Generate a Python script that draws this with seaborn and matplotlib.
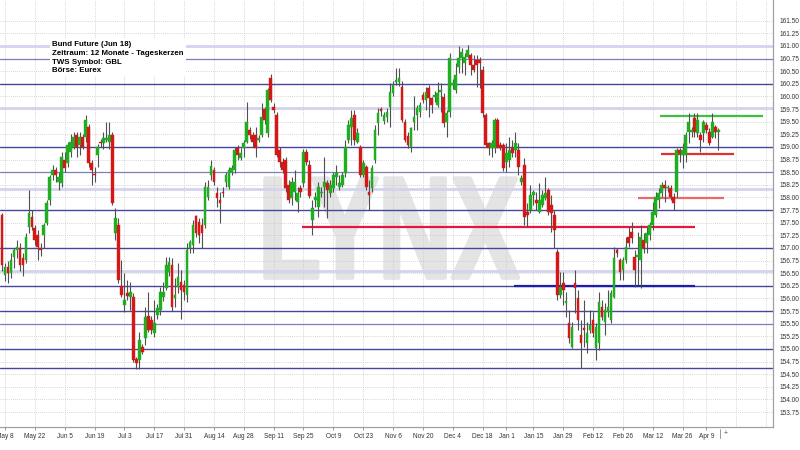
import numpy as np
import pandas as pd
import matplotlib
matplotlib.use("Agg")
import matplotlib.pyplot as plt
import seaborn as sns
from matplotlib import patheffects
from matplotlib.transforms import Affine2D

# daily candles, Bund Future, one value per trading day
opens = [
    157.65, 156.46, 156.62, 156.50, 156.82, 156.95, 157.00, 156.80, 156.76, 157.42,
    157.61, 157.40, 157.26, 157.00, 157.26, 157.50, 157.95, 158.45, 158.55, 158.31,
    158.28, 158.74, 158.68, 158.90, 159.00, 159.24, 159.04, 159.20, 159.20, 159.40,
    158.68, 158.47, 158.84, 159.10, 159.08, 159.14, 159.10, 159.24, 157.30, 157.45,
    156.25, 155.87, 156.10, 156.03, 156.03, 154.80, 154.78, 155.04, 155.22, 155.65,
    155.57, 155.32, 155.67, 155.77, 156.03, 156.21, 156.52, 156.66, 156.00, 156.23,
    156.33, 156.27, 156.07, 157.00, 157.06, 157.63, 157.52, 157.45, 157.46, 158.00,
    158.45, 158.54, 158.09, 157.95, 158.10, 158.30, 158.20, 158.50, 158.55, 158.98,
    158.78, 158.98, 159.10, 159.33, 159.24, 159.24, 159.14, 159.24, 159.75, 159.28,
    160.37, 159.79, 159.63, 158.94, 158.70, 158.74, 158.25, 157.98, 158.10, 157.91,
    158.19, 158.29, 158.90, 158.64, 157.55, 157.95, 157.81, 158.08, 158.21, 158.29,
    158.09, 158.19, 158.41, 158.20, 158.25, 158.48, 159.14, 159.40, 159.63, 159.10,
    159.00, 158.45, 158.60, 158.11, 158.19, 158.74, 159.47, 159.75, 159.51, 159.59,
    159.79, 160.07, 160.29, 160.29, 160.19, 159.49, 159.22, 159.00, 159.49, 159.63,
    159.69, 160.03, 159.93, 160.17, 159.97, 159.99, 159.83, 160.09, 159.99, 159.49,
    159.69, 160.23, 160.13, 160.58, 160.76, 160.66, 160.78, 160.82, 160.62, 160.72,
    160.72, 160.52, 159.63, 159.08, 158.98, 158.98, 159.53, 159.04, 159.04, 158.70,
    158.74, 158.98, 158.94, 158.94, 158.31, 158.64, 157.71, 157.75, 158.05, 157.95,
    157.71, 157.85, 157.99, 158.15, 157.85, 157.65, 156.92, 156.07, 156.31, 155.91,
    155.51, 155.04, 156.31, 156.01, 155.28, 155.41, 155.12, 155.38, 155.57, 155.02,
    155.12, 155.83, 155.53, 155.73, 155.57, 156.03, 156.96, 156.76, 156.56, 156.76,
    157.22, 157.32, 156.82, 156.82, 156.76, 157.16, 157.10, 157.26, 157.46, 157.65,
    157.95, 158.09, 158.25, 158.19, 158.19, 158.01, 158.11, 158.94, 158.84, 158.84,
    159.30, 159.30, 159.57, 159.28, 159.24, 159.28, 159.43, 159.30, 159.20, 159.40, 159.30,
]
highs = [
    157.70, 156.70, 156.75, 156.90, 157.00, 157.15, 157.10, 156.90, 157.30, 158.15,
    157.75, 157.45, 157.35, 157.10, 157.50, 157.95, 158.45, 158.65, 158.60, 158.50,
    158.90, 158.90, 159.10, 159.25, 159.30, 159.30, 159.30, 159.25, 159.63, 159.45,
    158.75, 158.60, 159.05, 159.15, 159.30, 159.50, 159.50, 159.30, 157.80, 157.60,
    156.76, 156.50, 156.36, 156.33, 156.10, 154.85, 155.34, 155.10, 155.83, 156.13,
    155.65, 155.97, 155.90, 156.23, 156.33, 156.82, 156.82, 156.80, 156.40, 156.70,
    156.56, 156.37, 157.10, 157.16, 157.55, 157.65, 157.60, 157.60, 158.30, 158.35,
    158.74, 158.60, 158.20, 158.10, 158.20, 158.50, 158.60, 158.65, 159.00, 159.04,
    158.98, 159.14, 159.90, 159.40, 159.30, 159.40, 159.24, 159.87, 159.80, 160.17,
    160.45, 159.87, 159.70, 159.00, 158.78, 158.80, 158.35, 158.40, 158.55, 158.20,
    158.25, 158.96, 158.96, 158.74, 157.95, 158.10, 158.31, 158.20, 158.80, 158.35,
    158.35, 158.50, 158.64, 158.45, 158.50, 159.14, 159.53, 159.73, 159.73, 159.38,
    159.04, 158.75, 158.65, 158.35, 158.65, 159.43, 159.77, 159.80, 159.70, 159.77,
    160.27, 160.30, 160.56, 160.56, 160.30, 159.55, 159.30, 159.40, 160.00, 159.83,
    159.90, 160.09, 160.19, 160.23, 159.99, 160.10, 160.29, 160.27, 160.07, 159.73,
    160.86, 160.35, 160.66, 161.00, 160.96, 160.86, 161.02, 160.86, 160.82, 160.82,
    160.78, 160.60, 159.67, 159.10, 159.14, 159.57, 159.57, 159.10, 159.08, 159.08,
    159.20, 159.14, 159.30, 159.08, 158.45, 158.78, 157.89, 158.25, 158.15, 158.11,
    158.29, 158.15, 158.41, 158.19, 158.05, 157.75, 156.98, 156.52, 156.52, 156.13,
    155.77, 155.53, 156.56, 156.17, 155.57, 155.97, 155.53, 155.77, 155.73, 155.51,
    156.13, 155.97, 155.91, 156.17, 156.17, 157.02, 157.00, 156.80, 156.82, 157.22,
    157.42, 157.51, 156.96, 157.32, 157.46, 157.30, 157.42, 157.51, 157.91, 158.11,
    158.19, 158.31, 158.35, 158.25, 158.25, 158.09, 158.98, 158.98, 159.08, 159.30,
    159.67, 159.40, 159.67, 159.67, 159.30, 159.53, 159.49, 159.38, 159.67, 159.43, 159.38,
]
lows = [
    156.55, 156.35, 156.30, 156.40, 156.60, 156.80, 156.55, 156.45, 156.70, 157.30,
    157.35, 157.05, 156.76, 156.85, 157.00, 157.45, 157.85, 158.35, 158.30, 158.15,
    158.20, 158.50, 158.60, 158.80, 158.95, 158.80, 158.85, 158.95, 159.10, 158.60,
    158.25, 158.30, 158.60, 159.00, 158.95, 159.10, 158.95, 157.85, 157.15, 156.30,
    156.03, 155.73, 155.97, 155.77, 154.75, 154.60, 154.60, 154.90, 155.08, 155.34,
    155.30, 155.24, 155.60, 155.67, 155.95, 156.17, 156.45, 155.75, 155.83, 156.10,
    155.60, 155.97, 155.93, 156.90, 156.90, 157.22, 157.10, 157.00, 157.40, 157.95,
    158.35, 158.25, 157.81, 157.50, 158.00, 158.20, 158.17, 158.45, 158.48, 158.74,
    158.74, 158.80, 159.08, 159.15, 159.00, 158.80, 159.10, 159.20, 159.45, 159.20,
    159.90, 159.67, 158.80, 158.60, 158.48, 158.10, 157.89, 157.85, 157.95, 157.71,
    158.00, 158.20, 158.65, 157.99, 157.26, 157.81, 157.61, 158.00, 157.81, 157.60,
    158.00, 158.10, 158.25, 158.15, 158.20, 158.40, 159.08, 159.04, 159.04, 159.08,
    158.40, 158.40, 158.15, 157.75, 158.10, 158.68, 159.24, 159.62, 159.45, 159.49,
    159.40, 160.00, 160.23, 160.20, 159.50, 159.10, 158.98, 158.90, 159.34, 159.34,
    159.60, 159.87, 159.73, 159.59, 159.67, 159.90, 159.79, 159.69, 159.40, 159.20,
    159.59, 160.15, 160.07, 160.46, 160.46, 160.43, 160.76, 160.43, 160.48, 160.19,
    160.17, 159.60, 159.00, 158.84, 158.80, 158.88, 158.98, 158.94, 158.52, 158.50,
    158.60, 158.80, 158.80, 158.45, 158.25, 157.46, 157.42, 157.69, 157.85, 157.75,
    157.69, 157.81, 157.95, 157.65, 157.32, 157.00, 155.97, 156.01, 155.87, 155.63,
    155.12, 155.02, 155.71, 155.38, 154.62, 155.04, 154.92, 155.32, 155.24, 154.78,
    154.98, 155.57, 155.28, 155.63, 155.51, 156.00, 156.82, 156.37, 156.37, 156.70,
    157.02, 157.10, 156.23, 156.27, 156.21, 156.90, 156.90, 157.16, 157.36, 157.61,
    157.79, 158.01, 157.91, 158.11, 157.95, 157.75, 158.01, 158.70, 158.58, 158.70,
    159.08, 159.20, 159.20, 159.20, 158.90, 159.10, 159.28, 159.04, 159.18, 159.18, 158.94,
]
closes = [
    156.66, 156.62, 156.50, 156.76, 156.96, 157.02, 156.66, 156.66, 157.22, 157.69,
    157.42, 157.16, 157.02, 156.96, 157.46, 157.90, 158.41, 158.55, 158.45, 158.41,
    158.80, 158.58, 159.04, 159.10, 159.20, 159.00, 159.20, 159.00, 159.53, 158.68,
    158.54, 158.44, 159.00, 159.08, 159.18, 159.18, 159.24, 157.90, 157.60, 156.37,
    156.07, 155.97, 156.05, 156.13, 154.78, 154.72, 155.18, 154.94, 155.63, 155.38,
    155.38, 155.52, 155.81, 156.13, 156.13, 156.66, 156.72, 155.83, 156.07, 156.43,
    156.17, 156.13, 156.96, 157.12, 157.46, 157.30, 157.26, 157.30, 158.21, 158.20,
    158.62, 158.30, 157.99, 157.89, 158.09, 158.44, 158.55, 158.58, 158.94, 158.84,
    158.88, 159.08, 159.50, 159.24, 159.10, 158.98, 159.18, 159.60, 159.53, 160.13,
    159.93, 159.73, 158.84, 158.70, 158.54, 158.19, 157.95, 158.30, 158.30, 158.09,
    158.11, 158.90, 158.70, 158.03, 157.79, 158.01, 158.21, 158.11, 158.31, 158.15,
    158.25, 158.45, 158.49, 158.28, 158.45, 158.99, 159.43, 159.57, 159.14, 159.28,
    158.45, 158.68, 158.21, 158.05, 158.58, 159.33, 159.67, 159.71, 159.63, 159.69,
    160.09, 160.23, 160.33, 160.37, 159.53, 159.14, 159.04, 159.38, 159.59, 159.77,
    159.83, 159.93, 160.09, 159.97, 159.83, 160.03, 160.07, 160.13, 159.47, 159.67,
    160.76, 160.27, 160.43, 160.76, 160.88, 160.78, 160.92, 160.62, 160.52, 160.62,
    160.66, 159.67, 159.04, 158.98, 159.08, 159.53, 159.00, 158.98, 158.58, 158.88,
    158.94, 158.88, 159.08, 158.60, 158.39, 157.61, 157.65, 158.05, 158.11, 157.89,
    157.95, 158.05, 158.09, 157.71, 157.69, 157.36, 156.07, 156.23, 156.17, 155.95,
    155.22, 155.43, 156.21, 155.57, 155.12, 155.38, 155.32, 155.47, 155.32, 155.43,
    155.93, 155.63, 155.77, 155.83, 156.11, 156.80, 156.90, 156.52, 156.76, 157.02,
    157.10, 157.20, 156.56, 156.86, 157.22, 157.00, 157.30, 157.46, 157.71, 158.01,
    158.09, 158.25, 158.19, 158.21, 158.01, 157.89, 158.94, 158.88, 158.94, 159.24,
    159.49, 159.34, 159.30, 159.53, 159.14, 159.49, 159.34, 159.08, 159.49, 159.30, 159.34,
]

# x ticks: trading-day index of each labelled date
tick_pos = [1, 11, 21, 31, 41, 51, 61, 71, 81, 91, 101, 111, 121, 131, 141, 151,
            161, 169, 178, 188, 198, 208, 218, 228, 236]
tick_labels = ["May 8", "May 22", "Jun 5", "Jun 19", "Jul 3", "Jul 17", "Jul 31",
               "Aug 14", "Aug 28", "Sep 11", "Sep 25", "Oct 9", "Oct 23", "Nov 6",
               "Nov 20", "Dec 4", "Dec 18", "Jan 1", "Jan 15", "Jan 29", "Feb 12",
               "Feb 26", "Mar 12", "Mar 26", "Apr 9"]
future_grid = [246, 256]

# horizontal support / resistance levels across the whole chart
levels_dark = [160.25, 159.00, 157.75, 157.00, 156.25, 155.75, 155.00, 154.62]
levels_mid = [160.75, 158.50, 155.50]
levels_light = [161.00, 159.77, 158.17, 156.55]

# drawn trend segments: start index, end index, price
seg_start = [100.5, 171.5, 213.0, 220.8, 220.4]
seg_end = [232.2, 232.2, 241.9, 245.2, 254.9]
seg_level = [157.41, 156.25, 157.99, 158.86, 159.61]
seg_colors = ["#e8173a", "#1c1cb0", "#e86a6a", "#e03030", "#40c040"]

info_lines = ["Bund Future (Jun 18)", "Zeitraum: 12 Monate - Tageskerzen",
              "TWS Symbol: GBL", "Börse: Eurex"]


class Squeeze(patheffects.AbstractPathEffect):
    """Draw text glyphs narrower (condensed watermark) with a thickening stroke."""

    def __init__(self, sx, cx, lw):
        super().__init__()
        self.sx, self.cx, self.lw = sx, cx, lw

    def draw_path(self, renderer, gc, tpath, affine, rgbFace=None):
        gc0 = renderer.new_gc()
        gc0.copy_properties(gc)
        gc0.set_foreground(rgbFace)
        gc0.set_linewidth(self.lw)
        aff = affine + Affine2D().translate(-self.cx, 0).scale(self.sx, 1).translate(self.cx, 0)
        renderer.draw_path(gc0, tpath, aff, rgbFace)
        gc0.restore()


sns.set_theme(style="white")
plt.rcParams["font.family"] = ["Liberation Sans", "DejaVu Sans"]

df = pd.DataFrame({"o": opens, "h": highs, "l": lows, "c": closes})
df["i"] = np.arange(len(df))
df["up"] = df["c"] >= df["o"]

fig = plt.figure(figsize=(8, 4.5), dpi=100)
ax = fig.add_axes([0, 23 / 450, 773 / 800, 427 / 450])
ax.set_xlim(-0.67, 258.3)
ax.set_ylim(153.455, 161.91)

# grid
yticks = np.arange(153.75, 161.51, 0.25)
for v in yticks:
    ax.axhline(v, color="#c8c8c8", lw=0.6, ls=(0, (1, 1.5)), zorder=0.5)
for v in tick_pos + future_grid:
    ax.axvline(v, color="#c8c8c8", lw=0.6, ls=(0, (1, 1.5)), zorder=0.5)

# levels
for v in levels_light:
    ax.axhline(v, color="#d3d3ef", lw=2.0, zorder=1)
for v in levels_mid:
    ax.axhline(v, color="#7c7cc0", lw=0.9, zorder=1.1)
for v in levels_dark:
    ax.axhline(v, color="#46469c", lw=1.0, zorder=1.1)
for s, e, v, col in zip(seg_start, seg_end, seg_level, seg_colors):
    ax.hlines(v, s, e, color=col, lw=1.6, zorder=1.5)

# candles
ax.vlines(df["i"], df["l"], df["h"], color="#505050", lw=0.8, zorder=3)
body_lo = df[["o", "c"]].min(axis=1)
body_h = (df["c"] - df["o"]).abs().clip(lower=0.025)
body_col = np.where(df["up"], "#1fae1f", "#d41818")
ax.bar(df["i"], body_h, bottom=body_lo, width=0.9, color=body_col,
       edgecolor=body_col, linewidth=0.3, zorder=4)

# watermark
wx, wy = 129.6, 156.41
cx = ax.transData.transform((wx, wy))[0]
ax.text(wx, wy, "LYNX", ha="center", va="baseline", fontsize=104, fontweight="bold",
        color="#e4e4e4", zorder=0.2, path_effects=[Squeeze(0.70, cx, 3.0)])

# axes styling
ax.yaxis.tick_right()
ax.set_yticks(yticks)
ax.set_yticklabels([f"{v:.2f}" for v in yticks], fontsize=4.7, color="#333333")
ax.set_xticks(tick_pos)
ax.set_xticklabels(tick_labels, fontsize=4.7, color="#333333")
ax.tick_params(axis="y", length=2.5, width=0.6, color="#888888", pad=2, right=True)
ax.tick_params(axis="x", length=2, width=0.6, color="#888888", pad=2.5, bottom=True)
sns.despine(ax=ax, left=True, top=True, right=False, bottom=False)
for side in ["right", "bottom"]:
    ax.spines[side].set_color("#a0a0a0")
    ax.spines[side].set_linewidth(0.9)

xt = ax.get_xaxis_transform()
ax.plot([240.4, 240.4], [-0.004, -0.026], transform=xt, clip_on=False, color="#888888", lw=0.6)
ax.text(242.4, -0.016, "+", transform=xt, fontsize=5, color="#555555", va="center", ha="center")

fig.text(52.5 / 800, 1 - 41 / 450, "\n".join(info_lines), fontsize=5.7, fontweight="bold",
         color="black", va="top", ha="left", linespacing=1.35,
         bbox=dict(facecolor="white", edgecolor="none", pad=1.5), zorder=10)

fig.savefig("out.png", dpi=100)
